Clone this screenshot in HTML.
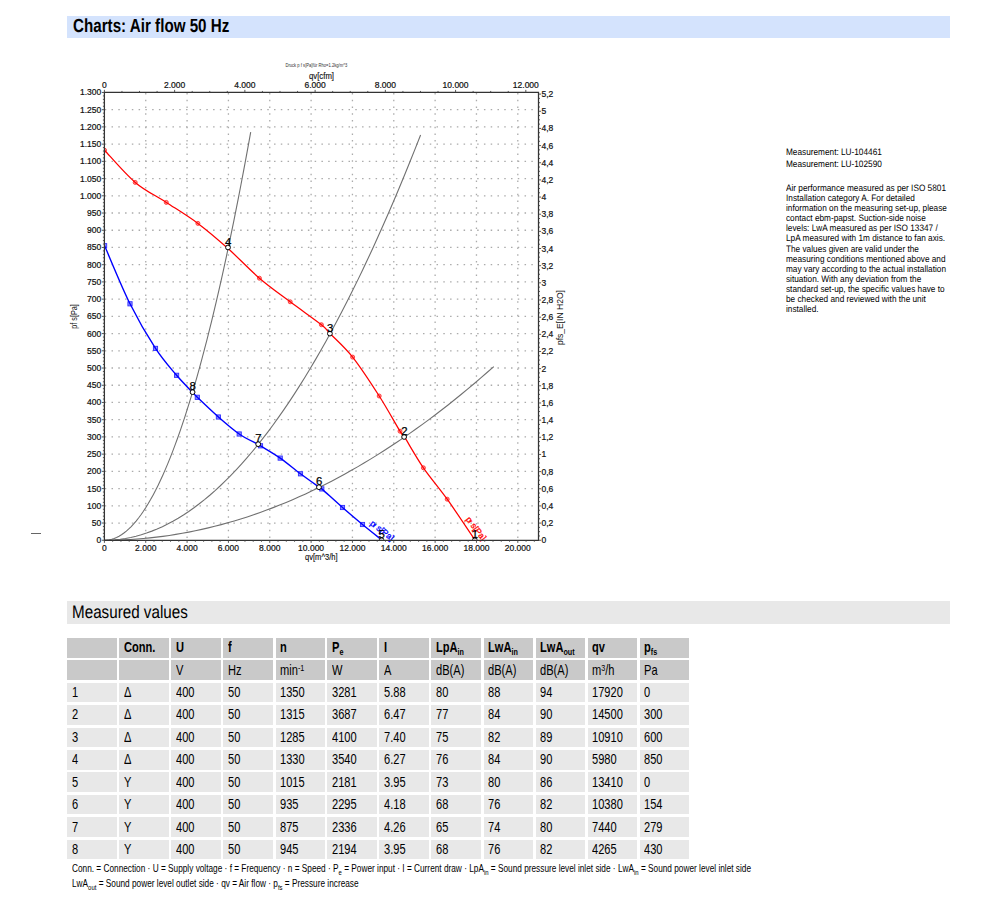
<!DOCTYPE html>
<html><head><meta charset="utf-8"><style>
*{margin:0;padding:0;box-sizing:border-box}
html,body{width:1000px;height:906px;background:#fff;overflow:hidden}
body{position:relative;font-family:"Liberation Sans",sans-serif;color:#000}
.bar{position:absolute;left:67px;width:883px}
.t1{top:15.7px;height:22.1px;background:#d4e3fd}
.t2{top:601.4px;height:22.8px;background:#e8e8e8}
.bt{position:absolute;white-space:nowrap;transform-origin:0 0}
.t1 .bt{left:5.9px;top:0.5px;font-size:19px;text-rendering:geometricPrecision;font-weight:bold;line-height:21px;transform:scaleX(0.799)}
.t2 .bt{left:5.0px;top:1px;font-size:18px;line-height:21px;transform:scaleX(0.845);text-rendering:geometricPrecision}
svg{position:absolute;left:0;top:0}
svg text{font-family:"Liberation Sans",sans-serif}
.info{position:absolute;left:785.9px;font-size:9.3px;line-height:10.15px;transform:scaleX(0.887);text-rendering:geometricPrecision;transform-origin:0 0;white-space:nowrap}
.c{position:absolute;width:49.6px;height:19.6px;overflow:visible}
.c span{position:absolute;left:4.9px;top:1.3px;font-size:14.5px;line-height:16px;white-space:nowrap;transform:scaleX(0.765);transform-origin:0 0}
.hb span{font-weight:bold}
sub{font-size:0.65em;vertical-align:-0.3em;line-height:0}
sup{font-size:0.65em;vertical-align:0.45em;line-height:0}
.fn{position:absolute;left:72.4px;font-size:10.3px;line-height:12px;white-space:nowrap;transform:scaleX(0.82);transform-origin:0 0}
.fn sub{font-size:0.72em;vertical-align:-0.38em}
.dash{position:absolute;left:31px;top:533px;width:9.6px;height:1px;background:#666}
</style></head><body>
<div class="bar t1"><div class="bt">Charts: Air flow 50 Hz</div></div>
<svg width="1000" height="600" viewBox="0 0 1000 600">
<defs><clipPath id="pa"><rect x="104.40" y="92.45" width="434.10" height="447.20"/></clipPath></defs>
<g stroke="#ababab" stroke-width="1.3" fill="none"><path d="M145.74,540.25V92.45" stroke-dasharray="1.5 5.217" stroke-dashoffset="4.367"/><path d="M187.08,540.25V92.45" stroke-dasharray="1.5 5.217" stroke-dashoffset="4.367"/><path d="M228.42,540.25V92.45" stroke-dasharray="1.5 5.217" stroke-dashoffset="4.367"/><path d="M269.76,540.25V92.45" stroke-dasharray="1.5 5.217" stroke-dashoffset="4.367"/><path d="M311.10,540.25V92.45" stroke-dasharray="1.5 5.217" stroke-dashoffset="4.367"/><path d="M352.44,540.25V92.45" stroke-dasharray="1.5 5.217" stroke-dashoffset="4.367"/><path d="M393.78,540.25V92.45" stroke-dasharray="1.5 5.217" stroke-dashoffset="4.367"/><path d="M435.12,540.25V92.45" stroke-dasharray="1.5 5.217" stroke-dashoffset="4.367"/><path d="M476.46,540.25V92.45" stroke-dasharray="1.5 5.217" stroke-dashoffset="4.367"/><path d="M517.80,540.25V92.45" stroke-dasharray="1.5 5.217" stroke-dashoffset="4.367"/><path d="M104.40,523.03H538.50" stroke-dasharray="1.5 5.271" stroke-dashoffset="6.421"/><path d="M104.40,505.81H538.50" stroke-dasharray="1.5 5.271" stroke-dashoffset="6.421"/><path d="M104.40,488.58H538.50" stroke-dasharray="1.5 5.271" stroke-dashoffset="6.421"/><path d="M104.40,471.36H538.50" stroke-dasharray="1.5 5.271" stroke-dashoffset="6.421"/><path d="M104.40,454.14H538.50" stroke-dasharray="1.5 5.271" stroke-dashoffset="6.421"/><path d="M104.40,436.92H538.50" stroke-dasharray="1.5 5.271" stroke-dashoffset="6.421"/><path d="M104.40,419.69H538.50" stroke-dasharray="1.5 5.271" stroke-dashoffset="6.421"/><path d="M104.40,402.47H538.50" stroke-dasharray="1.5 5.271" stroke-dashoffset="6.421"/><path d="M104.40,385.25H538.50" stroke-dasharray="1.5 5.271" stroke-dashoffset="6.421"/><path d="M104.40,368.02H538.50" stroke-dasharray="1.5 5.271" stroke-dashoffset="6.421"/><path d="M104.40,350.80H538.50" stroke-dasharray="1.5 5.271" stroke-dashoffset="6.421"/><path d="M104.40,333.58H538.50" stroke-dasharray="1.5 5.271" stroke-dashoffset="6.421"/><path d="M104.40,316.36H538.50" stroke-dasharray="1.5 5.271" stroke-dashoffset="6.421"/><path d="M104.40,299.13H538.50" stroke-dasharray="1.5 5.271" stroke-dashoffset="6.421"/><path d="M104.40,281.91H538.50" stroke-dasharray="1.5 5.271" stroke-dashoffset="6.421"/><path d="M104.40,264.69H538.50" stroke-dasharray="1.5 5.271" stroke-dashoffset="6.421"/><path d="M104.40,247.47H538.50" stroke-dasharray="1.5 5.271" stroke-dashoffset="6.421"/><path d="M104.40,230.25H538.50" stroke-dasharray="1.5 5.271" stroke-dashoffset="6.421"/><path d="M104.40,213.02H538.50" stroke-dasharray="1.5 5.271" stroke-dashoffset="6.421"/><path d="M104.40,195.80H538.50" stroke-dasharray="1.5 5.271" stroke-dashoffset="6.421"/><path d="M104.40,178.58H538.50" stroke-dasharray="1.5 5.271" stroke-dashoffset="6.421"/><path d="M104.40,161.36H538.50" stroke-dasharray="1.5 5.271" stroke-dashoffset="6.421"/><path d="M104.40,144.13H538.50" stroke-dasharray="1.5 5.271" stroke-dashoffset="6.421"/><path d="M104.40,126.91H538.50" stroke-dasharray="1.5 5.271" stroke-dashoffset="6.421"/><path d="M104.40,109.69H538.50" stroke-dasharray="1.5 5.271" stroke-dashoffset="6.421"/></g>
<g stroke="#707070" stroke-width="1.1" fill="none"><polyline points="104.40,540.25 106.84,540.14 109.28,539.80 111.72,539.23 114.15,538.44 116.59,537.42 119.03,536.17 121.47,534.70 123.91,532.99 126.35,531.07 128.78,528.91 131.22,526.53 133.66,523.93 136.10,521.09 138.54,518.03 140.98,514.74 143.41,511.23 145.85,507.49 148.29,503.52 150.73,499.33 153.17,494.90 155.61,490.26 158.04,485.38 160.48,480.28 162.92,474.95 165.36,469.40 167.80,463.62 170.24,457.61 172.67,451.37 175.11,444.91 177.55,438.22 179.99,431.31 182.43,424.17 184.87,416.80 187.30,409.20 189.74,401.38 192.18,393.33 194.62,385.05 197.06,376.55 199.50,367.82 201.93,358.87 204.37,349.68 206.81,340.28 209.25,330.64 211.69,320.78 214.13,310.69 216.57,300.37 219.00,289.83 221.44,279.06 223.88,268.06 226.32,256.84 228.76,245.39 231.20,233.71 233.63,221.81 236.07,209.68 238.51,197.32 240.95,184.74 243.39,171.93 245.83,158.89 248.26,145.63 250.70,132.14"/><polyline points="104.40,540.25 109.67,540.14 114.94,539.80 120.21,539.24 125.48,538.45 130.75,537.44 136.02,536.20 141.29,534.73 146.56,533.05 151.83,531.13 157.10,528.99 162.37,526.63 167.64,524.04 172.91,521.23 178.18,518.19 183.45,514.92 188.72,511.43 193.99,507.72 199.26,503.78 204.53,499.61 209.80,495.22 215.07,490.61 220.34,485.77 225.61,480.70 230.88,475.41 236.15,469.89 241.42,464.15 246.69,458.18 251.95,451.99 257.22,445.58 262.49,438.93 267.76,432.07 273.03,424.98 278.30,417.66 283.57,410.12 288.84,402.35 294.11,394.36 299.38,386.14 304.65,377.70 309.92,369.03 315.19,360.13 320.46,351.02 325.73,341.67 331.00,332.10 336.27,322.31 341.54,312.29 346.81,302.05 352.08,291.58 357.35,280.88 362.62,269.96 367.89,258.82 373.16,247.45 378.43,235.85 383.70,224.03 388.97,211.99 394.24,199.72 399.51,187.22 404.78,174.50 410.05,161.56 415.32,148.39 420.59,134.99"/><polyline points="104.40,540.25 110.89,540.20 117.38,540.06 123.87,539.82 130.36,539.48 136.85,539.04 143.34,538.51 149.83,537.89 156.32,537.16 162.81,536.34 169.30,535.42 175.79,534.41 182.28,533.30 188.77,532.10 195.26,530.79 201.75,529.39 208.24,527.90 214.73,526.30 221.22,524.62 227.71,522.83 234.20,520.95 240.69,518.97 247.18,516.90 253.67,514.72 260.16,512.46 266.65,510.09 273.14,507.63 279.63,505.07 286.12,502.42 292.61,499.67 299.10,496.82 305.59,493.88 312.08,490.84 318.57,487.70 325.06,484.47 331.55,481.14 338.04,477.71 344.53,474.19 351.02,470.57 357.51,466.86 364.00,463.04 370.49,459.14 376.98,455.13 383.47,451.03 389.96,446.83 396.45,442.54 402.94,438.14 409.43,433.66 415.92,429.07 422.41,424.39 428.90,419.61 435.39,414.74 441.88,409.77 448.37,404.70 454.86,399.54 461.35,394.28 467.84,388.93 474.33,383.47 480.82,377.92 487.31,372.28 493.80,366.54"/></g>
<g clip-path="url(#pa)">
<g stroke="#ff3030" stroke-width="0.9" fill="#ff9a9a"><circle cx="104.5" cy="150.2" r="2.0"/><circle cx="135.2" cy="182.4" r="2.0"/><circle cx="166.3" cy="202.4" r="2.0"/><circle cx="197.9" cy="223.4" r="2.0"/><circle cx="259.4" cy="278.2" r="2.0"/><circle cx="290.2" cy="301.8" r="2.0"/><circle cx="321.4" cy="324.7" r="2.0"/><circle cx="352.6" cy="357.1" r="2.0"/><circle cx="379.2" cy="396" r="2.0"/><circle cx="400" cy="431.2" r="2.0"/><circle cx="423.4" cy="467.8" r="2.0"/><circle cx="447.2" cy="499.2" r="2.0"/></g>
<g stroke="#3030ff" stroke-width="0.9" fill="#9090ff"><rect x="102.50" y="243.60" width="4.2" height="4.2"/><rect x="127.90" y="301.70" width="4.2" height="4.2"/><rect x="153.40" y="346.30" width="4.2" height="4.2"/><rect x="174.50" y="373.20" width="4.2" height="4.2"/><rect x="195.20" y="395.20" width="4.2" height="4.2"/><rect x="216.30" y="414.90" width="4.2" height="4.2"/><rect x="237.10" y="431.90" width="4.2" height="4.2"/><rect x="258.40" y="443.70" width="4.2" height="4.2"/><rect x="278.10" y="456.00" width="4.2" height="4.2"/><rect x="298.40" y="471.70" width="4.2" height="4.2"/><rect x="319.70" y="486.80" width="4.2" height="4.2"/><rect x="340.40" y="505.40" width="4.2" height="4.2"/><rect x="360.40" y="522.40" width="4.2" height="4.2"/></g>
<path d="M104.50,150.20 C109.62,155.57 124.90,173.70 135.20,182.40 C145.50,191.10 155.85,195.57 166.30,202.40 C176.75,209.23 187.65,215.75 197.90,223.40 C208.15,231.05 217.55,239.17 227.80,248.30 C238.05,257.43 249.00,269.28 259.40,278.20 C269.80,287.12 279.87,294.05 290.20,301.80 C300.53,309.55 314.77,319.42 321.40,324.70 C328.03,329.98 324.80,328.10 330.00,333.50 C335.20,338.90 344.40,346.68 352.60,357.10 C360.80,367.52 371.30,383.65 379.20,396.00 C387.10,408.35 395.82,424.42 400.00,431.20 C404.18,437.98 400.40,430.60 404.30,436.70 C408.20,442.80 416.25,457.38 423.40,467.80 C430.55,478.22 438.63,487.20 447.20,499.20 C455.77,511.20 470.20,533.03 474.80,539.80" stroke="#ff0000" stroke-width="1.25" fill="none"/>
<path d="M104.60,245.70 C108.83,255.38 121.52,286.68 130.00,303.80 C138.48,320.92 147.73,336.48 155.50,348.40 C163.27,360.32 170.50,368.05 176.60,375.30 C182.70,382.55 188.65,388.23 192.10,391.90 C195.55,395.57 192.92,393.12 197.30,397.30 C201.68,401.48 211.42,410.88 218.40,417.00 C225.38,423.12 232.62,429.45 239.20,434.00 C245.78,438.55 254.35,442.33 257.90,444.30 C261.45,446.27 256.78,443.50 260.50,445.80 C264.22,448.10 273.53,453.43 280.20,458.10 C286.87,462.77 294.03,468.97 300.50,473.80 C306.97,478.63 315.45,484.58 319.00,487.10 C322.55,489.62 317.88,485.50 321.80,488.90 C325.72,492.30 335.72,501.57 342.50,507.50 C349.28,513.43 356.00,519.13 362.50,524.50 C369.00,529.87 378.33,537.17 381.50,539.70" stroke="#0000ff" stroke-width="1.4" fill="none"/>
</g>
<text x="0" y="0" transform="translate(465.4,519.6) rotate(52)" fill="#ff0000" stroke="#ff0000" stroke-width="0.3" font-size="8.6">p<tspan font-size="6" dx="-1">f</tspan> s[Pa]</text>
<text x="0" y="0" transform="translate(369.6,524.4) rotate(38)" fill="#0000ff" stroke="#0000ff" stroke-width="0.3" font-size="8.6">p<tspan font-size="6" dx="-1">f</tspan> s[Pa]</text>
<g stroke="#000" stroke-width="1" fill="#fff" clip-path="url(#pa)"><circle cx="474.81" cy="540.25" r="2.4"/><circle cx="404.12" cy="436.92" r="2.4"/><circle cx="329.91" cy="333.58" r="2.4"/><circle cx="228.01" cy="247.47" r="2.4"/><circle cx="381.58" cy="540.25" r="2.4"/><circle cx="318.95" cy="487.20" r="2.4"/><circle cx="258.18" cy="444.15" r="2.4"/><circle cx="192.56" cy="392.14" r="2.4"/></g>
<g font-size="11.4" fill="#000" stroke="#000" stroke-width="0.25"><text x="475.01" y="538.45" text-anchor="middle">1</text><text x="404.31" y="435.12" text-anchor="middle">2</text><text x="330.11" y="331.78" text-anchor="middle">3</text><text x="228.21" y="245.67" text-anchor="middle">4</text><text x="381.78" y="538.45" text-anchor="middle">5</text><text x="319.15" y="485.40" text-anchor="middle">6</text><text x="258.38" y="442.35" text-anchor="middle">7</text><text x="192.76" y="390.34" text-anchor="middle">8</text></g>
<path d="M104.4,540.25 L104.4,92.45 L538.5,92.45 L538.5,540.25 Z" stroke="#333" stroke-width="1.25" fill="none"/><path d="M101.80,540.25H104.4M102.90,536.81H104.4M102.90,533.36H104.4M102.90,529.92H104.4M102.90,526.47H104.4M101.80,523.03H104.4M102.90,519.58H104.4M102.90,516.14H104.4M102.90,512.69H104.4M102.90,509.25H104.4M101.80,505.81H104.4M102.90,502.36H104.4M102.90,498.92H104.4M102.90,495.47H104.4M102.90,492.03H104.4M101.80,488.58H104.4M102.90,485.14H104.4M102.90,481.69H104.4M102.90,478.25H104.4M102.90,474.80H104.4M101.80,471.36H104.4M102.90,467.92H104.4M102.90,464.47H104.4M102.90,461.03H104.4M102.90,457.58H104.4M101.80,454.14H104.4M102.90,450.69H104.4M102.90,447.25H104.4M102.90,443.80H104.4M102.90,440.36H104.4M101.80,436.92H104.4M102.90,433.47H104.4M102.90,430.03H104.4M102.90,426.58H104.4M102.90,423.14H104.4M101.80,419.69H104.4M102.90,416.25H104.4M102.90,412.80H104.4M102.90,409.36H104.4M102.90,405.91H104.4M101.80,402.47H104.4M102.90,399.03H104.4M102.90,395.58H104.4M102.90,392.14H104.4M102.90,388.69H104.4M101.80,385.25H104.4M102.90,381.80H104.4M102.90,378.36H104.4M102.90,374.91H104.4M102.90,371.47H104.4M101.80,368.02H104.4M102.90,364.58H104.4M102.90,361.14H104.4M102.90,357.69H104.4M102.90,354.25H104.4M101.80,350.80H104.4M102.90,347.36H104.4M102.90,343.91H104.4M102.90,340.47H104.4M102.90,337.02H104.4M101.80,333.58H104.4M102.90,330.14H104.4M102.90,326.69H104.4M102.90,323.25H104.4M102.90,319.80H104.4M101.80,316.36H104.4M102.90,312.91H104.4M102.90,309.47H104.4M102.90,306.02H104.4M102.90,302.58H104.4M101.80,299.13H104.4M102.90,295.69H104.4M102.90,292.25H104.4M102.90,288.80H104.4M102.90,285.36H104.4M101.80,281.91H104.4M102.90,278.47H104.4M102.90,275.02H104.4M102.90,271.58H104.4M102.90,268.13H104.4M101.80,264.69H104.4M102.90,261.25H104.4M102.90,257.80H104.4M102.90,254.36H104.4M102.90,250.91H104.4M101.80,247.47H104.4M102.90,244.02H104.4M102.90,240.58H104.4M102.90,237.13H104.4M102.90,233.69H104.4M101.80,230.25H104.4M102.90,226.80H104.4M102.90,223.36H104.4M102.90,219.91H104.4M102.90,216.47H104.4M101.80,213.02H104.4M102.90,209.58H104.4M102.90,206.13H104.4M102.90,202.69H104.4M102.90,199.24H104.4M101.80,195.80H104.4M102.90,192.36H104.4M102.90,188.91H104.4M102.90,185.47H104.4M102.90,182.02H104.4M101.80,178.58H104.4M102.90,175.13H104.4M102.90,171.69H104.4M102.90,168.24H104.4M102.90,164.80H104.4M101.80,161.36H104.4M102.90,157.91H104.4M102.90,154.47H104.4M102.90,151.02H104.4M102.90,147.58H104.4M101.80,144.13H104.4M102.90,140.69H104.4M102.90,137.24H104.4M102.90,133.80H104.4M102.90,130.35H104.4M101.80,126.91H104.4M102.90,123.47H104.4M102.90,120.02H104.4M102.90,116.58H104.4M102.90,113.13H104.4M101.80,109.69H104.4M102.90,106.24H104.4M102.90,102.80H104.4M102.90,99.35H104.4M102.90,95.91H104.4M101.80,92.47H104.4M104.40,540.25V542.85M112.67,540.25V541.75M120.94,540.25V541.75M129.20,540.25V541.75M137.47,540.25V541.75M145.74,540.25V542.85M154.01,540.25V541.75M162.28,540.25V541.75M170.54,540.25V541.75M178.81,540.25V541.75M187.08,540.25V542.85M195.35,540.25V541.75M203.62,540.25V541.75M211.88,540.25V541.75M220.15,540.25V541.75M228.42,540.25V542.85M236.69,540.25V541.75M244.96,540.25V541.75M253.22,540.25V541.75M261.49,540.25V541.75M269.76,540.25V542.85M278.03,540.25V541.75M286.30,540.25V541.75M294.56,540.25V541.75M302.83,540.25V541.75M311.10,540.25V542.85M319.37,540.25V541.75M327.64,540.25V541.75M335.90,540.25V541.75M344.17,540.25V541.75M352.44,540.25V542.85M360.71,540.25V541.75M368.98,540.25V541.75M377.24,540.25V541.75M385.51,540.25V541.75M393.78,540.25V542.85M402.05,540.25V541.75M410.32,540.25V541.75M418.58,540.25V541.75M426.85,540.25V541.75M435.12,540.25V542.85M443.39,540.25V541.75M451.66,540.25V541.75M459.92,540.25V541.75M468.19,540.25V541.75M476.46,540.25V542.85M484.73,540.25V541.75M493.00,540.25V541.75M501.26,540.25V541.75M509.53,540.25V541.75M517.80,540.25V542.85M526.07,540.25V541.75M534.34,540.25V541.75M104.40,92.45V89.85M121.96,92.45V90.95M139.52,92.45V90.95M157.08,92.45V90.95M174.64,92.45V89.85M192.20,92.45V90.95M209.75,92.45V90.95M227.31,92.45V90.95M244.87,92.45V89.85M262.43,92.45V90.95M279.99,92.45V90.95M297.55,92.45V90.95M315.11,92.45V89.85M332.67,92.45V90.95M350.23,92.45V90.95M367.79,92.45V90.95M385.35,92.45V89.85M402.91,92.45V90.95M420.46,92.45V90.95M438.02,92.45V90.95M455.58,92.45V89.85M473.14,92.45V90.95M490.70,92.45V90.95M508.26,92.45V90.95M525.82,92.45V89.85M538.5,540.25H541.10M538.5,535.96H540.00M538.5,531.67H540.00M538.5,527.38H540.00M538.5,523.09H541.10M538.5,518.80H540.00M538.5,514.51H540.00M538.5,510.22H540.00M538.5,505.93H541.10M538.5,501.64H540.00M538.5,497.35H540.00M538.5,493.06H540.00M538.5,488.77H541.10M538.5,484.48H540.00M538.5,480.19H540.00M538.5,475.90H540.00M538.5,471.61H541.10M538.5,467.32H540.00M538.5,463.03H540.00M538.5,458.74H540.00M538.5,454.45H541.10M538.5,450.16H540.00M538.5,445.87H540.00M538.5,441.58H540.00M538.5,437.29H541.10M538.5,433.00H540.00M538.5,428.71H540.00M538.5,424.42H540.00M538.5,420.13H541.10M538.5,415.84H540.00M538.5,411.55H540.00M538.5,407.26H540.00M538.5,402.97H541.10M538.5,398.68H540.00M538.5,394.39H540.00M538.5,390.10H540.00M538.5,385.81H541.10M538.5,381.52H540.00M538.5,377.23H540.00M538.5,372.94H540.00M538.5,368.65H541.10M538.5,364.36H540.00M538.5,360.07H540.00M538.5,355.78H540.00M538.5,351.49H541.10M538.5,347.20H540.00M538.5,342.91H540.00M538.5,338.62H540.00M538.5,334.33H541.10M538.5,330.04H540.00M538.5,325.75H540.00M538.5,321.46H540.00M538.5,317.17H541.10M538.5,312.88H540.00M538.5,308.59H540.00M538.5,304.30H540.00M538.5,300.01H541.10M538.5,295.72H540.00M538.5,291.43H540.00M538.5,287.14H540.00M538.5,282.85H541.10M538.5,278.56H540.00M538.5,274.27H540.00M538.5,269.98H540.00M538.5,265.69H541.10M538.5,261.40H540.00M538.5,257.11H540.00M538.5,252.82H540.00M538.5,248.53H541.10M538.5,244.24H540.00M538.5,239.95H540.00M538.5,235.66H540.00M538.5,231.37H541.10M538.5,227.08H540.00M538.5,222.79H540.00M538.5,218.50H540.00M538.5,214.21H541.10M538.5,209.92H540.00M538.5,205.64H540.00M538.5,201.35H540.00M538.5,197.06H541.10M538.5,192.77H540.00M538.5,188.48H540.00M538.5,184.19H540.00M538.5,179.90H541.10M538.5,175.61H540.00M538.5,171.32H540.00M538.5,167.03H540.00M538.5,162.74H541.10M538.5,158.45H540.00M538.5,154.16H540.00M538.5,149.87H540.00M538.5,145.58H541.10M538.5,141.29H540.00M538.5,137.00H540.00M538.5,132.71H540.00M538.5,128.42H541.10M538.5,124.13H540.00M538.5,119.84H540.00M538.5,115.55H540.00M538.5,111.26H541.10M538.5,106.97H540.00M538.5,102.68H540.00M538.5,98.39H540.00M538.5,94.10H541.10" stroke="#444" stroke-width="0.9" fill="none"/>
<g font-size="8.5" fill="#111" stroke="#111" stroke-width="0.2"><text transform="translate(101.30,543.25) scale(1.0,1)" text-anchor="end">0</text><text transform="translate(101.30,526.03) scale(1.0,1)" text-anchor="end">50</text><text transform="translate(101.30,508.81) scale(1.0,1)" text-anchor="end">100</text><text transform="translate(101.30,491.58) scale(1.0,1)" text-anchor="end">150</text><text transform="translate(101.30,474.36) scale(1.0,1)" text-anchor="end">200</text><text transform="translate(101.30,457.14) scale(1.0,1)" text-anchor="end">250</text><text transform="translate(101.30,439.92) scale(1.0,1)" text-anchor="end">300</text><text transform="translate(101.30,422.69) scale(1.0,1)" text-anchor="end">350</text><text transform="translate(101.30,405.47) scale(1.0,1)" text-anchor="end">400</text><text transform="translate(101.30,388.25) scale(1.0,1)" text-anchor="end">450</text><text transform="translate(101.30,371.02) scale(1.0,1)" text-anchor="end">500</text><text transform="translate(101.30,353.80) scale(1.0,1)" text-anchor="end">550</text><text transform="translate(101.30,336.58) scale(1.0,1)" text-anchor="end">600</text><text transform="translate(101.30,319.36) scale(1.0,1)" text-anchor="end">650</text><text transform="translate(101.30,302.13) scale(1.0,1)" text-anchor="end">700</text><text transform="translate(101.30,284.91) scale(1.0,1)" text-anchor="end">750</text><text transform="translate(101.30,267.69) scale(1.0,1)" text-anchor="end">800</text><text transform="translate(101.30,250.47) scale(1.0,1)" text-anchor="end">850</text><text transform="translate(101.30,233.25) scale(1.0,1)" text-anchor="end">900</text><text transform="translate(101.30,216.02) scale(1.0,1)" text-anchor="end">950</text><text transform="translate(101.30,198.80) scale(1.0,1)" text-anchor="end">1.000</text><text transform="translate(101.30,181.58) scale(1.0,1)" text-anchor="end">1.050</text><text transform="translate(101.30,164.36) scale(1.0,1)" text-anchor="end">1.100</text><text transform="translate(101.30,147.13) scale(1.0,1)" text-anchor="end">1.150</text><text transform="translate(101.30,129.91) scale(1.0,1)" text-anchor="end">1.200</text><text transform="translate(101.30,112.69) scale(1.0,1)" text-anchor="end">1.250</text><text transform="translate(101.30,95.47) scale(1.0,1)" text-anchor="end">1.300</text><text transform="translate(104.40,550.80) scale(1.0,1)" text-anchor="middle">0</text><text transform="translate(145.74,550.80) scale(1.0,1)" text-anchor="middle">2.000</text><text transform="translate(187.08,550.80) scale(1.0,1)" text-anchor="middle">4.000</text><text transform="translate(228.42,550.80) scale(1.0,1)" text-anchor="middle">6.000</text><text transform="translate(269.76,550.80) scale(1.0,1)" text-anchor="middle">8.000</text><text transform="translate(311.10,550.80) scale(1.0,1)" text-anchor="middle">10.000</text><text transform="translate(352.44,550.80) scale(1.0,1)" text-anchor="middle">12.000</text><text transform="translate(393.78,550.80) scale(1.0,1)" text-anchor="middle">14.000</text><text transform="translate(435.12,550.80) scale(1.0,1)" text-anchor="middle">16.000</text><text transform="translate(476.46,550.80) scale(1.0,1)" text-anchor="middle">18.000</text><text transform="translate(517.80,550.80) scale(1.0,1)" text-anchor="middle">20.000</text><text transform="translate(104.40,88.40) scale(1.0,1)" text-anchor="middle">0</text><text transform="translate(174.64,88.40) scale(1.0,1)" text-anchor="middle">2.000</text><text transform="translate(244.87,88.40) scale(1.0,1)" text-anchor="middle">4.000</text><text transform="translate(315.11,88.40) scale(1.0,1)" text-anchor="middle">6.000</text><text transform="translate(385.35,88.40) scale(1.0,1)" text-anchor="middle">8.000</text><text transform="translate(455.58,88.40) scale(1.0,1)" text-anchor="middle">10.000</text><text transform="translate(525.82,88.40) scale(1.0,1)" text-anchor="middle">12.000</text><text transform="translate(541.40,543.25) scale(1.0,1)">0</text><text transform="translate(541.40,526.09) scale(1.0,1)">0,2</text><text transform="translate(541.40,508.93) scale(1.0,1)">0,4</text><text transform="translate(541.40,491.77) scale(1.0,1)">0,6</text><text transform="translate(541.40,474.61) scale(1.0,1)">0,8</text><text transform="translate(541.40,457.45) scale(1.0,1)">1</text><text transform="translate(541.40,440.29) scale(1.0,1)">1,2</text><text transform="translate(541.40,423.13) scale(1.0,1)">1,4</text><text transform="translate(541.40,405.97) scale(1.0,1)">1,6</text><text transform="translate(541.40,388.81) scale(1.0,1)">1,8</text><text transform="translate(541.40,371.65) scale(1.0,1)">2</text><text transform="translate(541.40,354.49) scale(1.0,1)">2,2</text><text transform="translate(541.40,337.33) scale(1.0,1)">2,4</text><text transform="translate(541.40,320.17) scale(1.0,1)">2,6</text><text transform="translate(541.40,303.01) scale(1.0,1)">2,8</text><text transform="translate(541.40,285.85) scale(1.0,1)">3</text><text transform="translate(541.40,268.69) scale(1.0,1)">3,2</text><text transform="translate(541.40,251.53) scale(1.0,1)">3,4</text><text transform="translate(541.40,234.37) scale(1.0,1)">3,6</text><text transform="translate(541.40,217.21) scale(1.0,1)">3,8</text><text transform="translate(541.40,200.06) scale(1.0,1)">4</text><text transform="translate(541.40,182.90) scale(1.0,1)">4,2</text><text transform="translate(541.40,165.74) scale(1.0,1)">4,4</text><text transform="translate(541.40,148.58) scale(1.0,1)">4,6</text><text transform="translate(541.40,131.42) scale(1.0,1)">4,8</text><text transform="translate(541.40,114.26) scale(1.0,1)">5</text><text transform="translate(541.40,97.10) scale(1.0,1)">5,2</text></g>
<text x="321.3" y="559.9" text-anchor="middle" font-size="8.8" fill="#111" stroke="#111" stroke-width="0.15" textLength="32.5" lengthAdjust="spacingAndGlyphs">qv[m^3/h]</text>
<text x="321.5" y="78.7" text-anchor="middle" font-size="8.8" fill="#111" stroke="#111" stroke-width="0.15" textLength="25" lengthAdjust="spacingAndGlyphs">qv[cfm]</text>
<text x="316.4" y="66.8" text-anchor="middle" font-size="4.6" fill="#333" textLength="62" lengthAdjust="spacingAndGlyphs">Druck p f s[Pa]für Rho=1.2kg/m^3</text>
<text transform="translate(76.6,316.5) rotate(-90)" text-anchor="middle" font-size="8.8" fill="#111" textLength="24.5" lengthAdjust="spacingAndGlyphs">pf s[Pa]</text>
<text transform="translate(562.9,317.6) rotate(-90)" text-anchor="middle" font-size="8.8" fill="#111" textLength="55" lengthAdjust="spacingAndGlyphs">pfs_E[IN H2O]</text>
</svg>
<div class="dash"></div>
<div class="info" style="top:147.2px">Measurement: LU-104461</div>
<div class="info" style="top:158.5px">Measurement: LU-102590</div>
<div class="info" style="top:182.6px">Air performance measured as per ISO 5801<br>Installation category A. For detailed<br>information on the measuring set-up, please<br>contact ebm-papst. Suction-side noise<br>levels: LwA measured as per ISO 13347 /<br>LpA measured with 1m distance to fan axis.<br>The values given are valid under the<br>measuring conditions mentioned above and<br>may vary according to the actual installation<br>situation. With any deviation from the<br>standard set-up, the specific values have to<br>be checked and reviewed with the unit<br>installed.</div>
<div class="bar t2"><div class="bt">Measured values</div></div>
<div class="c hb" style="left:67.0px;top:638.0px;width:49.6px;background:#c9c9c9"><span></span></div><div class="c hb" style="left:119.0px;top:638.0px;width:49.6px;background:#c9c9c9"><span>Conn.</span></div><div class="c hb" style="left:171.0px;top:638.0px;width:49.6px;background:#c9c9c9"><span>U</span></div><div class="c hb" style="left:223.0px;top:638.0px;width:49.5px;background:#c9c9c9"><span>f</span></div><div class="c hb" style="left:275.6px;top:638.0px;width:49.2px;background:#c9c9c9"><span>n</span></div><div class="c hb" style="left:327.2px;top:638.0px;width:49.7px;background:#c9c9c9"><span>P<sub>e</sub></span></div><div class="c hb" style="left:379.3px;top:638.0px;width:49.4px;background:#c9c9c9"><span>I</span></div><div class="c hb" style="left:431.1px;top:638.0px;width:49.7px;background:#c9c9c9"><span>LpA<sub>in</sub></span></div><div class="c hb" style="left:483.5px;top:638.0px;width:49.5px;background:#c9c9c9"><span>LwA<sub>in</sub></span></div><div class="c hb" style="left:535.6px;top:638.0px;width:49.2px;background:#c9c9c9"><span>LwA<sub>out</sub></span></div><div class="c hb" style="left:587.6px;top:638.0px;width:49.7px;background:#c9c9c9"><span>qv</span></div><div class="c hb" style="left:639.6px;top:638.0px;width:49.7px;background:#c9c9c9"><span>p<sub>fs</sub></span></div><div class="c hr" style="left:67.0px;top:660.4px;width:49.6px;background:#c9c9c9"><span></span></div><div class="c hr" style="left:119.0px;top:660.4px;width:49.6px;background:#c9c9c9"><span></span></div><div class="c hr" style="left:171.0px;top:660.4px;width:49.6px;background:#c9c9c9"><span>V</span></div><div class="c hr" style="left:223.0px;top:660.4px;width:49.5px;background:#c9c9c9"><span>Hz</span></div><div class="c hr" style="left:275.6px;top:660.4px;width:49.2px;background:#c9c9c9"><span>min<sup>-1</sup></span></div><div class="c hr" style="left:327.2px;top:660.4px;width:49.7px;background:#c9c9c9"><span>W</span></div><div class="c hr" style="left:379.3px;top:660.4px;width:49.4px;background:#c9c9c9"><span>A</span></div><div class="c hr" style="left:431.1px;top:660.4px;width:49.7px;background:#c9c9c9"><span>dB(A)</span></div><div class="c hr" style="left:483.5px;top:660.4px;width:49.5px;background:#c9c9c9"><span>dB(A)</span></div><div class="c hr" style="left:535.6px;top:660.4px;width:49.2px;background:#c9c9c9"><span>dB(A)</span></div><div class="c hr" style="left:587.6px;top:660.4px;width:49.7px;background:#c9c9c9"><span>m<sup>3</sup>/h</span></div><div class="c hr" style="left:639.6px;top:660.4px;width:49.7px;background:#c9c9c9"><span>Pa</span></div><div class="c d" style="left:67.0px;top:682.6px;width:49.6px;background:#e8e8e8"><span>1</span></div><div class="c d" style="left:119.0px;top:682.6px;width:49.6px;background:#e8e8e8"><span>Δ</span></div><div class="c d" style="left:171.0px;top:682.6px;width:49.6px;background:#e8e8e8"><span>400</span></div><div class="c d" style="left:223.0px;top:682.6px;width:49.5px;background:#e8e8e8"><span>50</span></div><div class="c d" style="left:275.6px;top:682.6px;width:49.2px;background:#e8e8e8"><span>1350</span></div><div class="c d" style="left:327.2px;top:682.6px;width:49.7px;background:#e8e8e8"><span>3281</span></div><div class="c d" style="left:379.3px;top:682.6px;width:49.4px;background:#e8e8e8"><span>5.88</span></div><div class="c d" style="left:431.1px;top:682.6px;width:49.7px;background:#e8e8e8"><span>80</span></div><div class="c d" style="left:483.5px;top:682.6px;width:49.5px;background:#e8e8e8"><span>88</span></div><div class="c d" style="left:535.6px;top:682.6px;width:49.2px;background:#e8e8e8"><span>94</span></div><div class="c d" style="left:587.6px;top:682.6px;width:49.7px;background:#e8e8e8"><span>17920</span></div><div class="c d" style="left:639.6px;top:682.6px;width:49.7px;background:#e8e8e8"><span>0</span></div><div class="c d" style="left:67.0px;top:705.1px;width:49.6px;background:#e8e8e8"><span>2</span></div><div class="c d" style="left:119.0px;top:705.1px;width:49.6px;background:#e8e8e8"><span>Δ</span></div><div class="c d" style="left:171.0px;top:705.1px;width:49.6px;background:#e8e8e8"><span>400</span></div><div class="c d" style="left:223.0px;top:705.1px;width:49.5px;background:#e8e8e8"><span>50</span></div><div class="c d" style="left:275.6px;top:705.1px;width:49.2px;background:#e8e8e8"><span>1315</span></div><div class="c d" style="left:327.2px;top:705.1px;width:49.7px;background:#e8e8e8"><span>3687</span></div><div class="c d" style="left:379.3px;top:705.1px;width:49.4px;background:#e8e8e8"><span>6.47</span></div><div class="c d" style="left:431.1px;top:705.1px;width:49.7px;background:#e8e8e8"><span>77</span></div><div class="c d" style="left:483.5px;top:705.1px;width:49.5px;background:#e8e8e8"><span>84</span></div><div class="c d" style="left:535.6px;top:705.1px;width:49.2px;background:#e8e8e8"><span>90</span></div><div class="c d" style="left:587.6px;top:705.1px;width:49.7px;background:#e8e8e8"><span>14500</span></div><div class="c d" style="left:639.6px;top:705.1px;width:49.7px;background:#e8e8e8"><span>300</span></div><div class="c d" style="left:67.0px;top:727.5px;width:49.6px;background:#e8e8e8"><span>3</span></div><div class="c d" style="left:119.0px;top:727.5px;width:49.6px;background:#e8e8e8"><span>Δ</span></div><div class="c d" style="left:171.0px;top:727.5px;width:49.6px;background:#e8e8e8"><span>400</span></div><div class="c d" style="left:223.0px;top:727.5px;width:49.5px;background:#e8e8e8"><span>50</span></div><div class="c d" style="left:275.6px;top:727.5px;width:49.2px;background:#e8e8e8"><span>1285</span></div><div class="c d" style="left:327.2px;top:727.5px;width:49.7px;background:#e8e8e8"><span>4100</span></div><div class="c d" style="left:379.3px;top:727.5px;width:49.4px;background:#e8e8e8"><span>7.40</span></div><div class="c d" style="left:431.1px;top:727.5px;width:49.7px;background:#e8e8e8"><span>75</span></div><div class="c d" style="left:483.5px;top:727.5px;width:49.5px;background:#e8e8e8"><span>82</span></div><div class="c d" style="left:535.6px;top:727.5px;width:49.2px;background:#e8e8e8"><span>89</span></div><div class="c d" style="left:587.6px;top:727.5px;width:49.7px;background:#e8e8e8"><span>10910</span></div><div class="c d" style="left:639.6px;top:727.5px;width:49.7px;background:#e8e8e8"><span>600</span></div><div class="c d" style="left:67.0px;top:750.0px;width:49.6px;background:#e8e8e8"><span>4</span></div><div class="c d" style="left:119.0px;top:750.0px;width:49.6px;background:#e8e8e8"><span>Δ</span></div><div class="c d" style="left:171.0px;top:750.0px;width:49.6px;background:#e8e8e8"><span>400</span></div><div class="c d" style="left:223.0px;top:750.0px;width:49.5px;background:#e8e8e8"><span>50</span></div><div class="c d" style="left:275.6px;top:750.0px;width:49.2px;background:#e8e8e8"><span>1330</span></div><div class="c d" style="left:327.2px;top:750.0px;width:49.7px;background:#e8e8e8"><span>3540</span></div><div class="c d" style="left:379.3px;top:750.0px;width:49.4px;background:#e8e8e8"><span>6.27</span></div><div class="c d" style="left:431.1px;top:750.0px;width:49.7px;background:#e8e8e8"><span>76</span></div><div class="c d" style="left:483.5px;top:750.0px;width:49.5px;background:#e8e8e8"><span>84</span></div><div class="c d" style="left:535.6px;top:750.0px;width:49.2px;background:#e8e8e8"><span>90</span></div><div class="c d" style="left:587.6px;top:750.0px;width:49.7px;background:#e8e8e8"><span>5980</span></div><div class="c d" style="left:639.6px;top:750.0px;width:49.7px;background:#e8e8e8"><span>850</span></div><div class="c d" style="left:67.0px;top:772.4px;width:49.6px;background:#e8e8e8"><span>5</span></div><div class="c d" style="left:119.0px;top:772.4px;width:49.6px;background:#e8e8e8"><span>Y</span></div><div class="c d" style="left:171.0px;top:772.4px;width:49.6px;background:#e8e8e8"><span>400</span></div><div class="c d" style="left:223.0px;top:772.4px;width:49.5px;background:#e8e8e8"><span>50</span></div><div class="c d" style="left:275.6px;top:772.4px;width:49.2px;background:#e8e8e8"><span>1015</span></div><div class="c d" style="left:327.2px;top:772.4px;width:49.7px;background:#e8e8e8"><span>2181</span></div><div class="c d" style="left:379.3px;top:772.4px;width:49.4px;background:#e8e8e8"><span>3.95</span></div><div class="c d" style="left:431.1px;top:772.4px;width:49.7px;background:#e8e8e8"><span>73</span></div><div class="c d" style="left:483.5px;top:772.4px;width:49.5px;background:#e8e8e8"><span>80</span></div><div class="c d" style="left:535.6px;top:772.4px;width:49.2px;background:#e8e8e8"><span>86</span></div><div class="c d" style="left:587.6px;top:772.4px;width:49.7px;background:#e8e8e8"><span>13410</span></div><div class="c d" style="left:639.6px;top:772.4px;width:49.7px;background:#e8e8e8"><span>0</span></div><div class="c d" style="left:67.0px;top:794.9px;width:49.6px;background:#e8e8e8"><span>6</span></div><div class="c d" style="left:119.0px;top:794.9px;width:49.6px;background:#e8e8e8"><span>Y</span></div><div class="c d" style="left:171.0px;top:794.9px;width:49.6px;background:#e8e8e8"><span>400</span></div><div class="c d" style="left:223.0px;top:794.9px;width:49.5px;background:#e8e8e8"><span>50</span></div><div class="c d" style="left:275.6px;top:794.9px;width:49.2px;background:#e8e8e8"><span>935</span></div><div class="c d" style="left:327.2px;top:794.9px;width:49.7px;background:#e8e8e8"><span>2295</span></div><div class="c d" style="left:379.3px;top:794.9px;width:49.4px;background:#e8e8e8"><span>4.18</span></div><div class="c d" style="left:431.1px;top:794.9px;width:49.7px;background:#e8e8e8"><span>68</span></div><div class="c d" style="left:483.5px;top:794.9px;width:49.5px;background:#e8e8e8"><span>76</span></div><div class="c d" style="left:535.6px;top:794.9px;width:49.2px;background:#e8e8e8"><span>82</span></div><div class="c d" style="left:587.6px;top:794.9px;width:49.7px;background:#e8e8e8"><span>10380</span></div><div class="c d" style="left:639.6px;top:794.9px;width:49.7px;background:#e8e8e8"><span>154</span></div><div class="c d" style="left:67.0px;top:817.3px;width:49.6px;background:#e8e8e8"><span>7</span></div><div class="c d" style="left:119.0px;top:817.3px;width:49.6px;background:#e8e8e8"><span>Y</span></div><div class="c d" style="left:171.0px;top:817.3px;width:49.6px;background:#e8e8e8"><span>400</span></div><div class="c d" style="left:223.0px;top:817.3px;width:49.5px;background:#e8e8e8"><span>50</span></div><div class="c d" style="left:275.6px;top:817.3px;width:49.2px;background:#e8e8e8"><span>875</span></div><div class="c d" style="left:327.2px;top:817.3px;width:49.7px;background:#e8e8e8"><span>2336</span></div><div class="c d" style="left:379.3px;top:817.3px;width:49.4px;background:#e8e8e8"><span>4.26</span></div><div class="c d" style="left:431.1px;top:817.3px;width:49.7px;background:#e8e8e8"><span>65</span></div><div class="c d" style="left:483.5px;top:817.3px;width:49.5px;background:#e8e8e8"><span>74</span></div><div class="c d" style="left:535.6px;top:817.3px;width:49.2px;background:#e8e8e8"><span>80</span></div><div class="c d" style="left:587.6px;top:817.3px;width:49.7px;background:#e8e8e8"><span>7440</span></div><div class="c d" style="left:639.6px;top:817.3px;width:49.7px;background:#e8e8e8"><span>279</span></div><div class="c d" style="left:67.0px;top:839.8px;width:49.6px;background:#e8e8e8"><span>8</span></div><div class="c d" style="left:119.0px;top:839.8px;width:49.6px;background:#e8e8e8"><span>Y</span></div><div class="c d" style="left:171.0px;top:839.8px;width:49.6px;background:#e8e8e8"><span>400</span></div><div class="c d" style="left:223.0px;top:839.8px;width:49.5px;background:#e8e8e8"><span>50</span></div><div class="c d" style="left:275.6px;top:839.8px;width:49.2px;background:#e8e8e8"><span>945</span></div><div class="c d" style="left:327.2px;top:839.8px;width:49.7px;background:#e8e8e8"><span>2194</span></div><div class="c d" style="left:379.3px;top:839.8px;width:49.4px;background:#e8e8e8"><span>3.95</span></div><div class="c d" style="left:431.1px;top:839.8px;width:49.7px;background:#e8e8e8"><span>68</span></div><div class="c d" style="left:483.5px;top:839.8px;width:49.5px;background:#e8e8e8"><span>76</span></div><div class="c d" style="left:535.6px;top:839.8px;width:49.2px;background:#e8e8e8"><span>82</span></div><div class="c d" style="left:587.6px;top:839.8px;width:49.7px;background:#e8e8e8"><span>4265</span></div><div class="c d" style="left:639.6px;top:839.8px;width:49.7px;background:#e8e8e8"><span>430</span></div>
<div class="fn" style="top:862.5px;transform:scaleX(0.803)">Conn. = Connection · U = Supply voltage · f = Frequency · n = Speed · P<sub>e</sub> = Power input · I = Current draw · LpA<sub>in</sub> = Sound pressure level inlet side · LwA<sub>in</sub> = Sound power level inlet side</div>
<div class="fn" style="top:877.8px;transform:scaleX(0.803)">LwA<sub>out</sub> = Sound power level outlet side · qv = Air flow · p<sub>fs</sub> = Pressure increase</div>
</body></html>
